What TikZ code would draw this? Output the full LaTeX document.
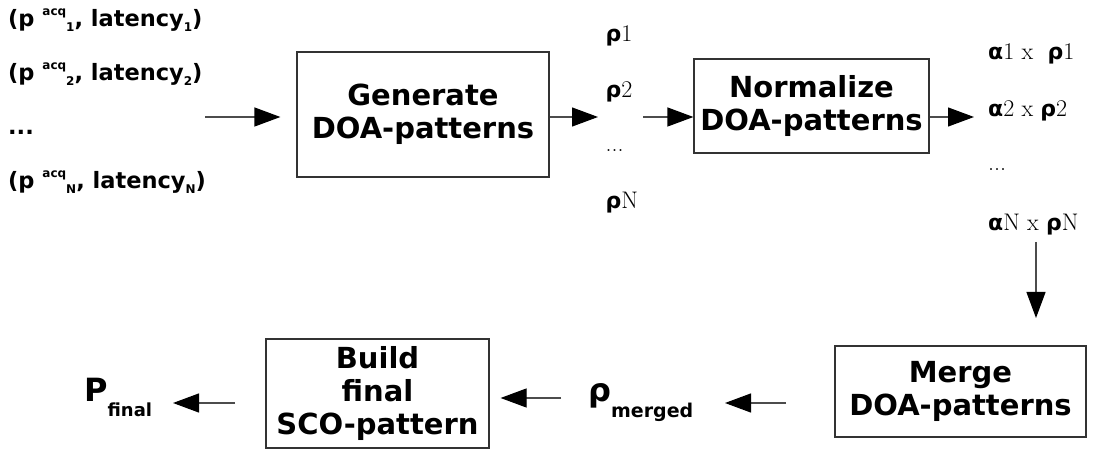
\documentclass[tikz,border=0pt]{standalone}
\usepackage{fontspec}
\newfontfamily\dvn{DejaVu Sans}
\usetikzlibrary{arrows.meta}
\tikzset{
  procbox/.style={draw=black!80, line width=1.2bp, inner sep=0pt, align=center,
    font=\dvn\bfseries\fontsize{29bp}{33bp}\selectfont},
  flow/.style={draw=black!70, line width=1.2bp,
    -{Triangle[length=26bp,width=19bp,color=black]}},
  lefttxt/.style={anchor=base west, inner sep=0pt, font=\dvn\bfseries\fontsize{22.5bp}{27bp}\selectfont},
  coltxt/.style={anchor=base west, inner sep=0pt, font=\fontsize{24bp}{26bp}\selectfont},
  bigtxt/.style={anchor=base west, inner sep=0pt, font=\dvn\bfseries\fontsize{32bp}{36bp}\selectfont},
}
\newcommand{\gr}[1]{{\dvn\bfseries\fontsize{22bp}{24bp}\selectfont #1}}
\newcommand{\smalltx}[1]{{\fontsize{12bp}{14bp}\selectfont #1}}
\newcommand{\pacq}[1]{(p \raisebox{11bp}{\smalltx{acq}}\raisebox{-5bp}{\smalltx{#1}}, latency\raisebox{-5bp}{\smalltx{#1}})}
\begin{document}
\begin{tikzpicture}[x=1bp,y=-1bp]
\useasboundingbox (0,0) rectangle (1094,451);
% left inputs
\node[lefttxt] (in1) at (8,27) {\pacq{1}};
\node[lefttxt] (in2) at (8,81) {\pacq{2}};
\node[lefttxt] (ind) at (8,135) {...};
\node[lefttxt] (inN) at (8,189) {\pacq{N}};
% boxes
\node[procbox, minimum width=252bp, minimum height=125bp] (gen) at (423,114.5) {Generate\\DOA-patterns};
\node[procbox, minimum width=235bp, minimum height=94bp] (norm) at (811.5,106) {Normalize\\DOA-patterns};
\node[procbox, minimum width=251bp, minimum height=91bp] (merge) at (960.5,391.5) {Merge\\DOA-patterns};
\node[procbox, minimum width=223bp, minimum height=109bp] (build) at (377.5,393.5) {Build\\final\\SCO-pattern};
% rho column
\node[coltxt] (r1) at (605.5,42) {\gr{ρ}1};
\node[coltxt] (r2) at (605.5,98) {\gr{ρ}2};
\node[coltxt] (rd) at (605.5,152) {...};
\node[coltxt] (rN) at (605.5,209) {\gr{ρ}N};
% alpha column
\node[coltxt] (a1) at (988,60) {\gr{α}1 x\ \ \gr{ρ}1};
\node[coltxt] (a2) at (988,117) {\gr{α}2 x \gr{ρ}2};
\node[coltxt] (ad) at (988,171) {...};
\node[coltxt] (aN) at (988,231) {\gr{α}N x \gr{ρ}N};
% bottom labels
\node[bigtxt] (rm) at (588,402) {ρ\raisebox{-16bp}{\fontsize{19bp}{20bp}\selectfont merged}};
\node[bigtxt] (pf) at (84,402) {P\raisebox{-15bp}{\fontsize{18bp}{20bp}\selectfont final}};
% connector ends
\coordinate (c1) at (205,117);
\coordinate (c2t) at (598,117);
\coordinate (c3s) at (643,117);
\coordinate (c4t) at (974,117);
\coordinate (c5s) at (1036,242);
\coordinate (c5t) at (1036,318);
\coordinate (c6s) at (786,403);
\coordinate (c6t) at (725,403);
\coordinate (c7s) at (561,398);
\coordinate (c8s) at (235,403);
\coordinate (c8t) at (173,403);
% connectors
\draw[flow, shorten >=16bp] (c1) -- (c1 -| gen.west);
\draw[flow] (gen.east |- c2t) -- (c2t);
\draw[flow] (c3s) -- (c3s -| norm.west);
\draw[flow] (norm.east |- c4t) -- (c4t);
\draw[flow] (c5s) -- (c5t);
\draw[flow] (c6s) -- (c6t);
\draw[flow, shorten >=11bp] (c7s) -- (c7s -| build.east);
\draw[flow] (c8s) -- (c8t);
\end{tikzpicture}
\end{document}
